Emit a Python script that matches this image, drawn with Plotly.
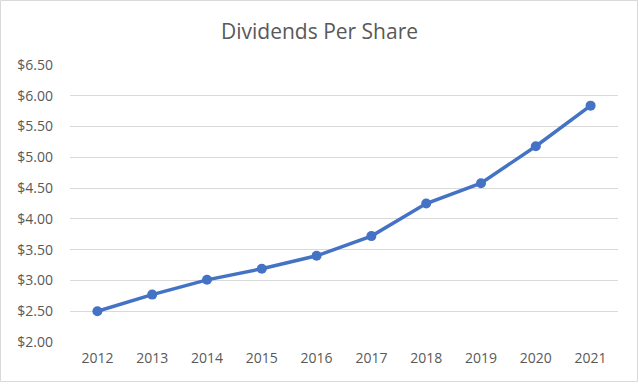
import plotly.graph_objects as go

years = ["2012", "2013", "2014", "2015", "2016", "2017", "2018", "2019", "2020", "2021"]
dividends = [2.50, 2.77, 3.01, 3.19, 3.40, 3.72, 4.25, 4.58, 5.18, 5.84]
y_ticks = [2.0, 2.5, 3.0, 3.5, 4.0, 4.5, 5.0, 5.5, 6.0, 6.5]
y_tick_labels = ["$%.2f" % v for v in y_ticks]

W, H = 639, 384
L, R, T, B = 70, 21, 65, 42
pw, ph = W - L - R, H - T - B

fig = go.Figure()
fig.add_trace(go.Scatter(
    x=years, y=dividends, mode="lines+markers",
    line=dict(color="#4472C4", width=3.5),
    marker=dict(color="#4472C4", size=10),
    hoverinfo="skip", showlegend=False,
))

fig.update_layout(
    width=W, height=H,
    margin=dict(l=L, r=R, t=T, b=B),
    paper_bgcolor="white", plot_bgcolor="white",
    font=dict(family="Open Sans, Liberation Sans, sans-serif", color="#595959", size=14),
    title=dict(text="Dividends Per Share", x=0.5, xanchor="center", y=1 - 32 / H, yanchor="middle",
               font=dict(size=21, color="#595959")),
    xaxis=dict(type="category", range=[-0.5, 9.5], showgrid=False, zeroline=False,
               showline=False, ticks="", ticklabelstandoff=6,
               tickfont=dict(size=14, color="#595959")),
    yaxis=dict(range=[2.0, 6.5], tickvals=y_ticks, ticktext=y_tick_labels,
               showgrid=True, gridcolor="#D9D9D9", gridwidth=1, zeroline=False,
               showline=False, ticks="", ticklabelstandoff=16,
               tickfont=dict(size=14, color="#595959")),
    shapes=[dict(type="rect", xref="paper", yref="paper",
                 x0=(0.5 - L) / pw, x1=(637.5 - L) / pw,
                 y0=-(381.5 - (H - B)) / ph,
                 y1=1 + (T - 0.5) / ph,
                 line=dict(color="#D9D9D9", width=1), fillcolor="rgba(0,0,0,0)", layer="below")],
)

fig.write_html("out.html", config={"displayModeBar": False, "staticPlot": True},
               post_script="document.body.style.margin='0';document.body.style.padding='0';")
